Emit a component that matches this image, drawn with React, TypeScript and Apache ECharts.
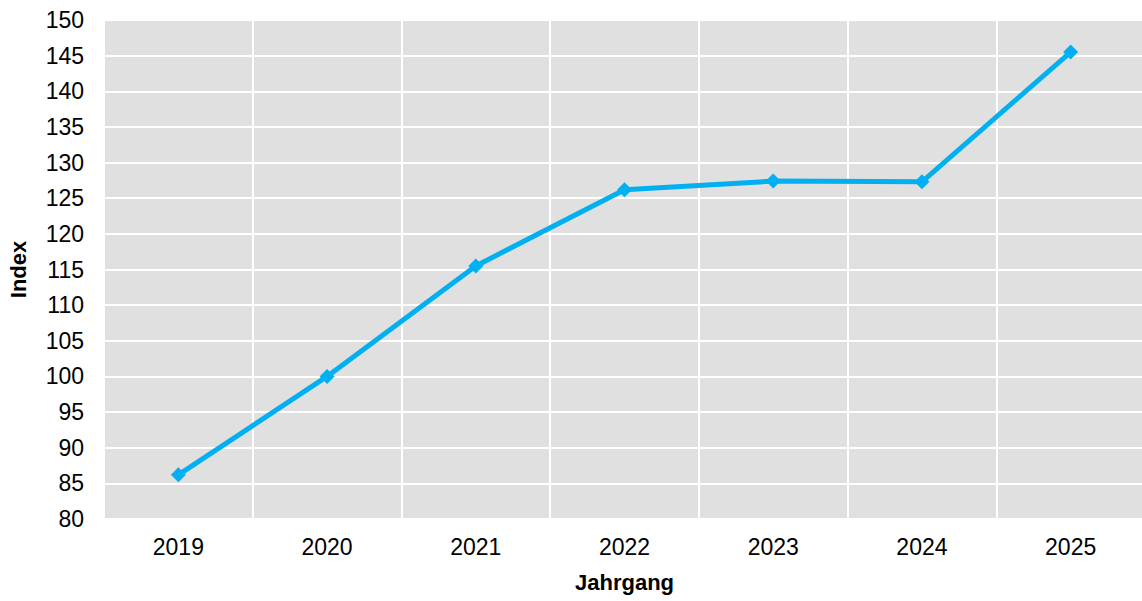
import React, { useEffect, useRef } from "react";
import * as echarts from "echarts";

const categories = ["2019", "2020", "2021", "2022", "2023", "2024", "2025"];
const indexValues = [86.2, 100.0, 115.5, 126.2, 127.4, 127.3, 145.5];
const yMin = 80;
const yMax = 150;
const yStep = 5;

export default function App() {
  const ref = useRef<HTMLDivElement>(null);
  useEffect(() => {
    if (!ref.current) return;
    const chart = echarts.init(ref.current, null, { renderer: "svg" });
    const font = "'Liberation Sans', Arial, sans-serif";
    chart.setOption({
      animation: false,
      backgroundColor: "#ffffff",
      grid: {
        left: 104,
        right: -3,
        top: 20,
        bottom: 82,
        outerBoundsMode: "none",
        containLabel: false,
        show: true,
        backgroundColor: "#e0e0e0",
        borderColor: "#f4f4f4",
        borderWidth: 1,
      },
      xAxis: {
        type: "category",
        data: categories,
        boundaryGap: true,
        name: "Jahrgang",
        nameLocation: "middle",
        nameGap: 52,
        nameTextStyle: { fontFamily: font, fontSize: 22, fontWeight: "bold", color: "#000" },
        axisLine: { show: false },
        axisTick: { show: false },
        axisLabel: { fontFamily: font, fontSize: 23, color: "#000", margin: 16 },
        splitLine: { show: true, lineStyle: { color: "#ffffff", width: 2 } },
      },
      yAxis: {
        type: "value",
        min: yMin,
        max: yMax,
        interval: yStep,
        name: "Index",
        nameLocation: "middle",
        nameGap: 75,
        nameTextStyle: { fontFamily: font, fontSize: 22, fontWeight: "bold", color: "#000" },
        axisLine: { show: false },
        axisTick: { show: false },
        axisLabel: { fontFamily: font, fontSize: 23, color: "#000", margin: 20 },
        splitLine: { show: true, lineStyle: { color: "#ffffff", width: 2 } },
      },
      series: [
        {
          type: "line",
          data: indexValues,
          lineStyle: { color: "#00b0f0", width: 5 },
          itemStyle: { color: "#00b0f0" },
          symbol: "diamond",
          symbolSize: 15,
          showSymbol: true,
        },
      ],
    });
    return () => chart.dispose();
  }, []);
  return (
    <div
      ref={ref}
      style={{ position: "fixed", left: 0, top: 0, width: 1142, height: 601 }}
    />
  );
}
